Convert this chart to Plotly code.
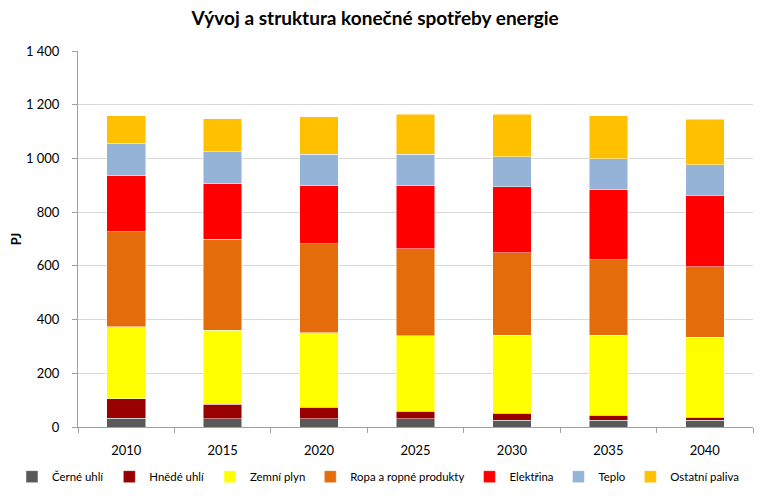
import plotly.graph_objects as go

years = ["2010", "2015", "2020", "2025", "2030", "2035", "2040"]
cerne_uhli = [33, 31, 31, 31, 26, 26, 26]
hnede_uhli = [73, 54, 42, 27, 25, 18, 10]
zemni_plyn = [267, 275, 278, 282, 291, 298, 299]
ropa = [354, 340, 332, 323, 306, 281, 261]
elektrina = [208, 206, 216, 236, 247, 261, 266]
teplo = [122, 119, 117, 116, 112, 114, 115]
ostatni = [101, 122, 140, 149, 157, 161, 169]

series = [
    ("Černé uhlí", cerne_uhli, "#595959"),
    ("Hnědé uhlí", hnede_uhli, "#990000"),
    ("Zemní plyn", zemni_plyn, "#FFFF00"),
    ("Ropa a ropné produkty", ropa, "#E46C0A"),
    ("Elektřina", elektrina, "#FF0000"),
    ("Teplo", teplo, "#95B3D7"),
    ("Ostatní paliva", ostatni, "#FFC000"),
]

fig = go.Figure()
for name, vals, color in series:
    fig.add_trace(go.Bar(
        x=years, y=vals, name=name,
        marker=dict(color=color, line=dict(color="rgba(255,255,255,0.6)", width=0.8)),
    ))

font_family = "Lato, 'Open Sans', sans-serif"
fig.update_layout(
    barmode="stack",
    bargap=0.6,
    width=761, height=499,
    margin=dict(l=78, r=8, t=51, b=70),
    paper_bgcolor="white", plot_bgcolor="white",
    font=dict(family=font_family, size=13, color="#000000"),
    separators=". ",
    title=dict(text="<b>Vývoj a struktura konečné spotřeby energie</b>",
               x=0.493, xanchor="center", y=0.964, yanchor="middle",
               font=dict(size=19, family=font_family, color="#000000")),
    xaxis=dict(
        showline=True, linecolor="#A0A0A0", linewidth=1,
        ticks="outside", tickson="boundaries", ticklen=5, tickcolor="#A0A0A0",
        tickfont=dict(size=13), showgrid=False, automargin=False,
        ticklabelstandoff=11,
    ),
    yaxis=dict(
        range=[0, 1400], dtick=200, tickformat=",d",
        showline=True, linecolor="#A0A0A0", linewidth=1,
        ticks="outside", ticklen=5, tickcolor="#A0A0A0",
        gridcolor="#D9D9D9", gridwidth=1, automargin=False,
        ticklabelstandoff=10,
        title=dict(text="<b>PJ</b>", font=dict(size=13), standoff=1),
        tickfont=dict(size=13),
    ),
    legend=dict(orientation="h", x=-0.0978, xanchor="left", y=-0.132, yanchor="middle",
                font=dict(size=11.4), traceorder="normal"),
)

fig.write_html("out.html", config={"displayModeBar": False},
               post_script="document.body.style.margin='0';")
